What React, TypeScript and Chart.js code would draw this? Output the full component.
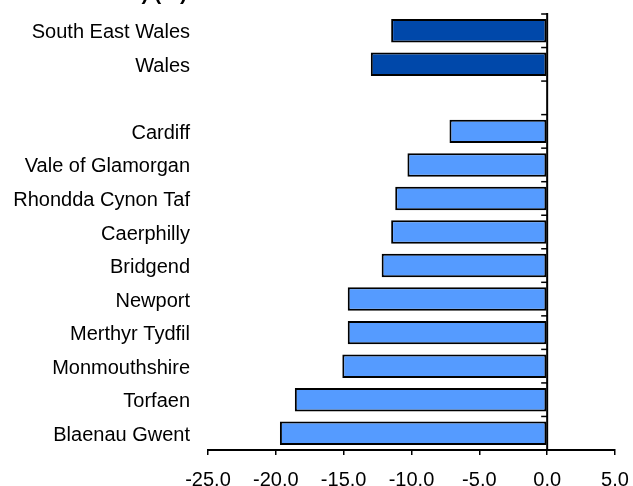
import React, { useEffect, useRef } from "react";
import { Chart, registerables } from "chart.js";

Chart.register(...registerables);

const categories = [
  "South East Wales",
  "Wales",
  "",
  "Cardiff",
  "Vale of Glamorgan",
  "Rhondda Cynon Taf",
  "Caerphilly",
  "Bridgend",
  "Newport",
  "Merthyr Tydfil",
  "Monmouthshire",
  "Torfaen",
  "Blaenau Gwent",
];

const values: (number | null)[] = [
  -11.5, -13.0, null, -7.2, -10.3, -11.2, -11.5, -12.2, -14.7, -14.7, -15.1, -18.6, -19.7,
];

const xTicks = [-25, -20, -15, -10, -5, 0, 5];

const titleText = "2009) (%)";

const DARK = "#0048AA";
const LIGHT = "#559BFF";

export default function App() {
  const ref = useRef<HTMLCanvasElement | null>(null);

  useEffect(() => {
    if (!ref.current) return;
    const colors = categories.map((_, i) => (i < 2 ? DARK : LIGHT));

    const axisPlugin = {
      id: "zeroAxis",
      afterDatasetsDraw(chart: any) {
        const { ctx, chartArea, scales } = chart;
        const x0 = scales.x.getPixelForValue(0);
        ctx.save();
        ctx.strokeStyle = "#000";
        ctx.lineWidth = 2;
        ctx.beginPath();
        ctx.moveTo(x0, chartArea.top - 1);
        ctx.lineTo(x0, chartArea.bottom);
        ctx.stroke();
        const n = categories.length;
        const h = (chartArea.bottom - chartArea.top) / n;
        ctx.lineWidth = 1.5;
        for (let i = 0; i <= n; i++) {
          const y = chartArea.top + i * h;
          ctx.beginPath();
          ctx.moveTo(x0 - 6, y);
          ctx.lineTo(x0, y);
          ctx.stroke();
        }
        ctx.restore();
      },
      afterDraw(chart: any) {
        const { ctx } = chart;
        ctx.save();
        ctx.fillStyle = "#000";
        ctx.font = "bold 21px 'Liberation Sans', Arial, sans-serif";
        ctx.textAlign = "right";
        ctx.textBaseline = "alphabetic";
        ctx.fillText(titleText, 187, 0);
        ctx.restore();
      },
    };

    const chart = new Chart(ref.current, {
      type: "bar",
      data: {
        labels: categories,
        datasets: [
          {
            data: values,
            backgroundColor: colors,
            borderColor: "#000",
            borderWidth: 2,
            borderSkipped: false,
            categoryPercentage: 1,
            barPercentage: 0.7,
          },
        ],
      },
      options: {
        indexAxis: "y",
        animation: false,
        responsive: false,
        maintainAspectRatio: false,
        layout: { padding: { left: 0, right: 18, top: 14, bottom: 0 } },
        plugins: {
          legend: { display: false },
          tooltip: { enabled: false },
          title: { display: false },
        },
        scales: {
          x: {
            type: "linear",
            min: -25,
            max: 5,
            afterBuildTicks(scale: any) {
              scale.ticks = xTicks.map((v) => ({ value: v }));
            },
            afterFit(scale: any) {
              scale.height = 36;
              scale.paddingLeft = 0;
              scale.paddingRight = 0;
            },
            grid: {
              display: true,
              drawOnChartArea: false,
              drawTicks: true,
              tickLength: 5,
              color: "#000",
              lineWidth: 1.5,
            },
            border: { display: true, color: "#000", width: 2 },
            ticks: {
              color: "#000",
              padding: 13,
              maxRotation: 0,
              font: { family: "'Liberation Sans', Arial, sans-serif", size: 20 },
              callback: (v: any) => Number(v).toFixed(1),
            },
          },
          y: {
            type: "category",
            afterFit(scale: any) {
              scale.width = 208;
              scale.paddingTop = 0;
              scale.paddingBottom = 0;
            },
            grid: { display: false, drawTicks: false },
            border: { display: false },
            ticks: {
              color: "#000",
              padding: 18,
              labelOffset: 2,
              autoSkip: false,
              font: { family: "'Liberation Sans', Arial, sans-serif", size: 20 },
            },
          },
        },
      },
      plugins: [axisPlugin],
    } as any);

    return () => chart.destroy();
  }, []);

  return (
    <div style={{ position: "absolute", left: 0, top: 0, width: 633, height: 486 }}>
      <canvas ref={ref} width={633} height={486} style={{ display: "block" }} />
    </div>
  );
}
